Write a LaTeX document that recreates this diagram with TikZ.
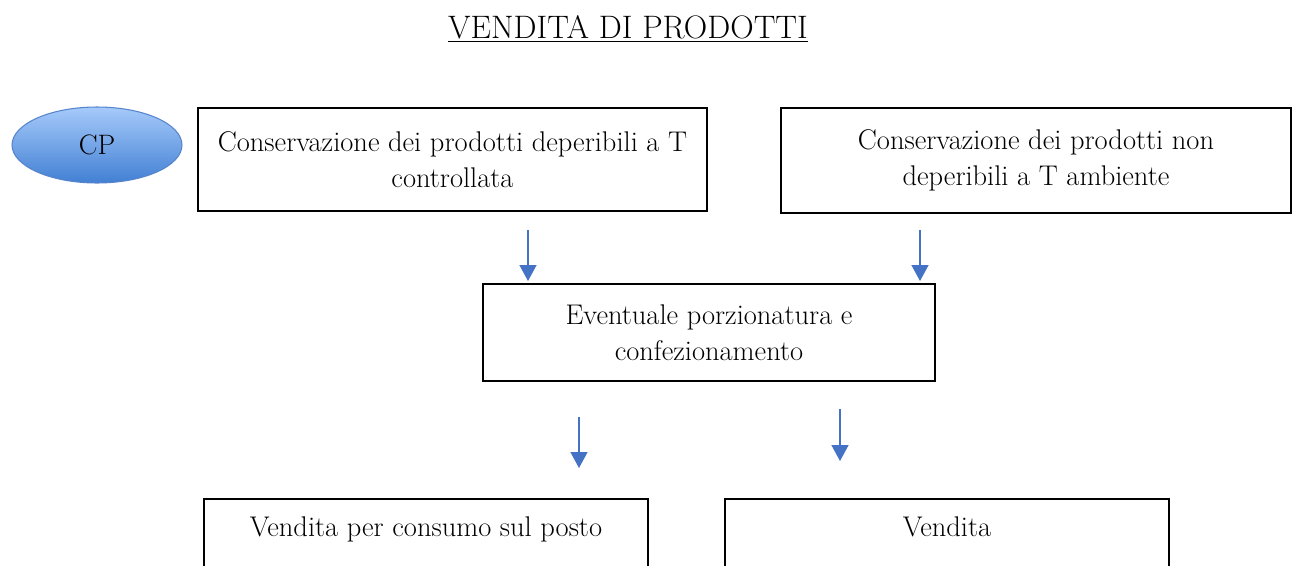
\documentclass[tikz,border=0pt]{standalone}
\usetikzlibrary{arrows.meta, shapes.geometric}
\definecolor{cpblue}{HTML}{5685CC}
\definecolor{cptop}{HTML}{A6CAFA}
\definecolor{cpbottom}{HTML}{4280D4}
\definecolor{arrowblue}{HTML}{4472C4}

\tikzset{
    box/.style={draw=black, line width=1.1pt, align=center, inner sep=0pt,
        font=\fontsize{16.2}{20.5}\selectfont},
    flow/.style={draw=arrowblue, line width=0.85pt,
        -{Triangle[width=0.34cm, length=0.32cm]}},
}

\begin{document}
\begin{tikzpicture}[x=0.02cm, y=-0.02cm]
        % page
        \clip (0, 0) rectangle (1292, 565);
        \fill[white] (0, 0) rectangle (1292, 565);

        % title
        \node (title) at (628, 29) {\fontsize{18.5}{22}\selectfont\underline{VENDITA DI PRODOTTI}};

        % ellipse
        \node[ellipse, draw=cpblue, line width=0.6pt, top color=cptop, bottom color=cpbottom,
            minimum width=3.4cm, minimum height=1.52cm, font=\fontsize{16}{19}\selectfont] (cp) at (97, 145) {CP};

        % boxes
        \node[box, minimum width=10.18cm, minimum height=2.06cm] (dep) at (452.5, 159.5)
            {Conservazione dei prodotti deperibili a T\\controllata};
        \node[box, minimum width=10.2cm, minimum height=2.1cm] (nondep) at (1036, 160.5)
            {Conservazione dei prodotti non\\deperibili a T ambiente};
        \node[box, minimum width=9.04cm, minimum height=1.94cm] (porz) at (709, 332.5)
            {Eventuale porzionatura e\\confezionamento};
        \node[box, minimum width=8.88cm, anchor=north, text height=0.76cm, text depth=1.5cm] (posto) at (426, 498)
            {Vendita per consumo sul posto};
        \node[box, minimum width=8.88cm, anchor=north, text height=0.76cm, text depth=1.5cm] (vend) at (947, 498)
            {Vendita};

        % arrow ends
        \coordinate (a1) at (528, 230);
        \coordinate (b1) at (528, 281);
        \coordinate (a2) at (920, 230);
        \coordinate (b2) at (920, 281);
        \coordinate (a3) at (579, 417);
        \coordinate (b3) at (579, 468);
        \coordinate (a4) at (840, 409);
        \coordinate (b4) at (840, 461);

        % arrows
        \draw[flow] (a1) -- (b1);
        \draw[flow] (a2) -- (b2);
        \draw[flow] (a3) -- (b3);
        \draw[flow] (a4) -- (b4);
\end{tikzpicture}
\end{document}
